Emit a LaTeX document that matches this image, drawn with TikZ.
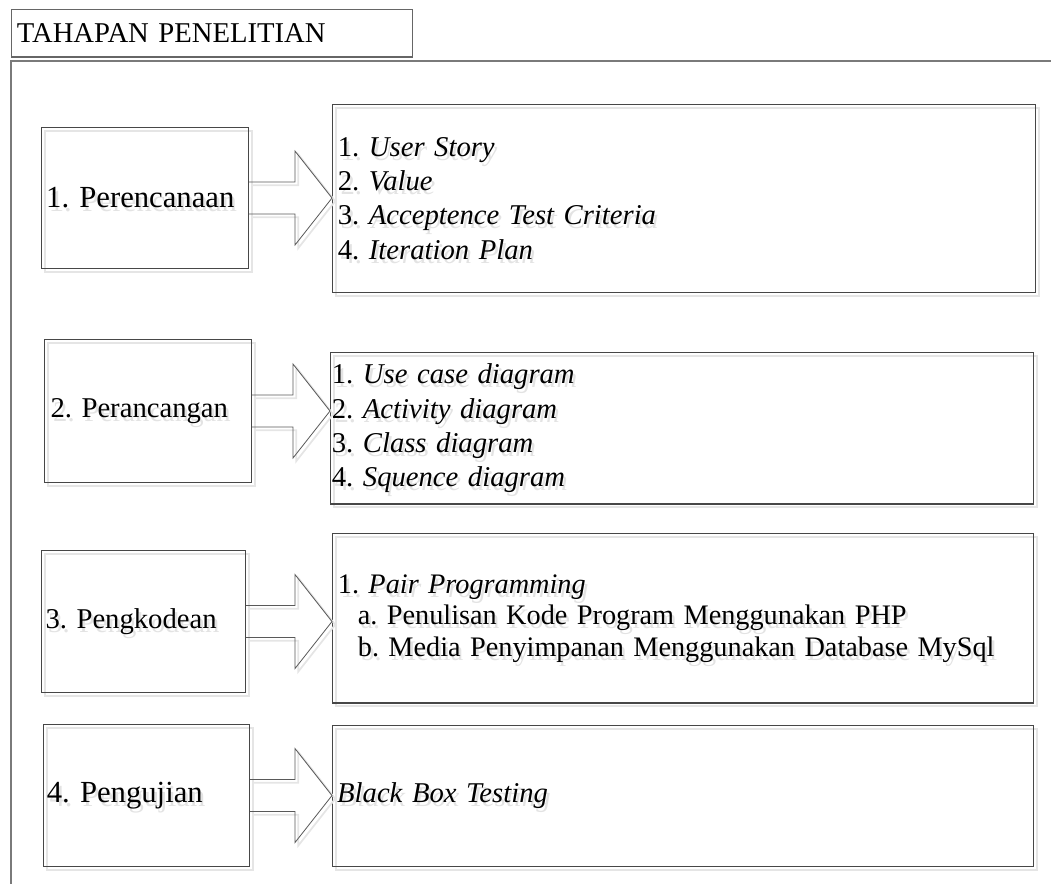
\documentclass[tikz,border=0pt]{standalone}
\usepackage{fontspec}
\setmainfont{Liberation Serif}
\usetikzlibrary{calc}

% text with a soft grey drop shadow
\newcommand\shtext[1]{\leavevmode\rlap{\kern2pt\raisebox{-3pt}[0pt][0pt]{\color{black!11}#1}}#1}

% block arrow from the east side of one stage box to the west side of its detail box
\newcommand\stagearrow[3]{%
  \coordinate (#3tip) at (#1.east -| #2.west);
  \draw[blockarrow] ($(#1.east)+(0,-16)$) -- ($(#3tip)+(-37,-16)$) -- ($(#3tip)+(-37,-47)$)
    -- (#3tip) -- ($(#3tip)+(-37,47)$) -- ($(#3tip)+(-37,16)$) -- ($(#1.east)+(0,16)$);}

\begin{document}
\frenchspacing
\begin{tikzpicture}[x=0.75pt,y=-0.75pt,
  shadowed/.style={preaction={draw=black!10,line width=1.3pt,
      transform canvas={shift={(2.4pt,-2.4pt)}}}},
  frameline/.style={draw=black!52,line width=1.1pt},
  box/.style={shadowed,draw=black!72,line width=0.8pt,rectangle,anchor=north west,
      inner ysep=0pt,align=left},
  titlebox/.style={draw=black!60,line width=0.8pt,rectangle,anchor=north west,
      inner ysep=0pt,align=left,font=\fontsize{21.5}{25.5}\selectfont},
  stage/.style={font=\fontsize{21.5}{25.5}\selectfont},
  bigstage/.style={font=\fontsize{23}{27}\selectfont},
  detail/.style={font=\fontsize{21.5}{25.6}\selectfont},
  blockarrow/.style={shadowed,draw=black!65,line width=0.6pt,line join=miter}
]
\useasboundingbox (0,0) rectangle (1051,884);

% title and surrounding frame
\node[titlebox,inner xsep=4pt,text width=292.75pt,minimum width=300.75pt,minimum height=35.6pt]
  (title) at (11,9) {TAHAPAN PENELITIAN};
\draw[frameline] (1060,61) -- (11,61) -- (11,895);

% stage boxes
\node[box,bigstage,inner xsep=3.5pt,text width=148.25pt,minimum width=155.25pt,minimum height=105.75pt]
  (l1) at (41,127) {\shtext{1. Perencanaan}};
\node[box,stage,inner xsep=4.5pt,text width=146.25pt,minimum width=155.25pt,minimum height=107.25pt]
  (l2) at (44,339) {\shtext{2. Perancangan}};
\node[box,stage,inner xsep=3pt,text width=147pt,minimum width=153pt,minimum height=106.5pt]
  (l3) at (41,550) {\shtext{3. Pengkodean}};
\node[box,bigstage,inner xsep=2.5pt,text width=149.5pt,minimum width=154.5pt,minimum height=106.5pt]
  (l4) at (43,724) {\shtext{4. Pengujian}};

% detail boxes
\node[box,detail,inner xsep=4pt,text width=519.25pt,minimum width=527.25pt,minimum height=141pt]
  (r1) at (332,104) {\shtext{1. \textit{User Story}}\\
                     \shtext{2. \textit{Value}}\\
                     \shtext{3. \textit{Acceptence Test Criteria}}\\
                     \shtext{4. \textit{Iteration Plan}}};
\node[box,detail,inner xsep=1pt,text width=525.25pt,minimum width=527.25pt,minimum height=113.6pt]
  (r2) at (330,352) {\shtext{1. \textit{Use case diagram}}\\
                     \shtext{2. \textit{Activity diagram}}\\
                     \shtext{3. \textit{Class diagram}}\\
                     \shtext{4. \textit{Squence diagram}}};
\node[box,font=\fontsize{21.2}{23.6}\selectfont,inner xsep=4pt,text width=517.75pt,minimum width=525.75pt,minimum height=127.1pt]
  (r3) at (332,533) {\shtext{1. \textit{Pair Programming}}\\
                     \hspace*{15pt}\shtext{a. Penulisan Kode Program Menggunakan PHP}\\
                     \hspace*{15pt}\shtext{b. Media Penyimpanan Menggunakan Database MySql}};
\node[box,detail,inner xsep=3.5pt,text width=518.75pt,minimum width=525.75pt,minimum height=105.75pt]
  (r4) at (332,725) {\shtext{\textit{Black Box Testing}}};

% arrows between stages and details
\stagearrow{l1}{r1}{a1}
\stagearrow{l2}{r2}{a2}
\stagearrow{l3}{r3}{a3}
\stagearrow{l4}{r4}{a4}
\end{tikzpicture}
\end{document}
